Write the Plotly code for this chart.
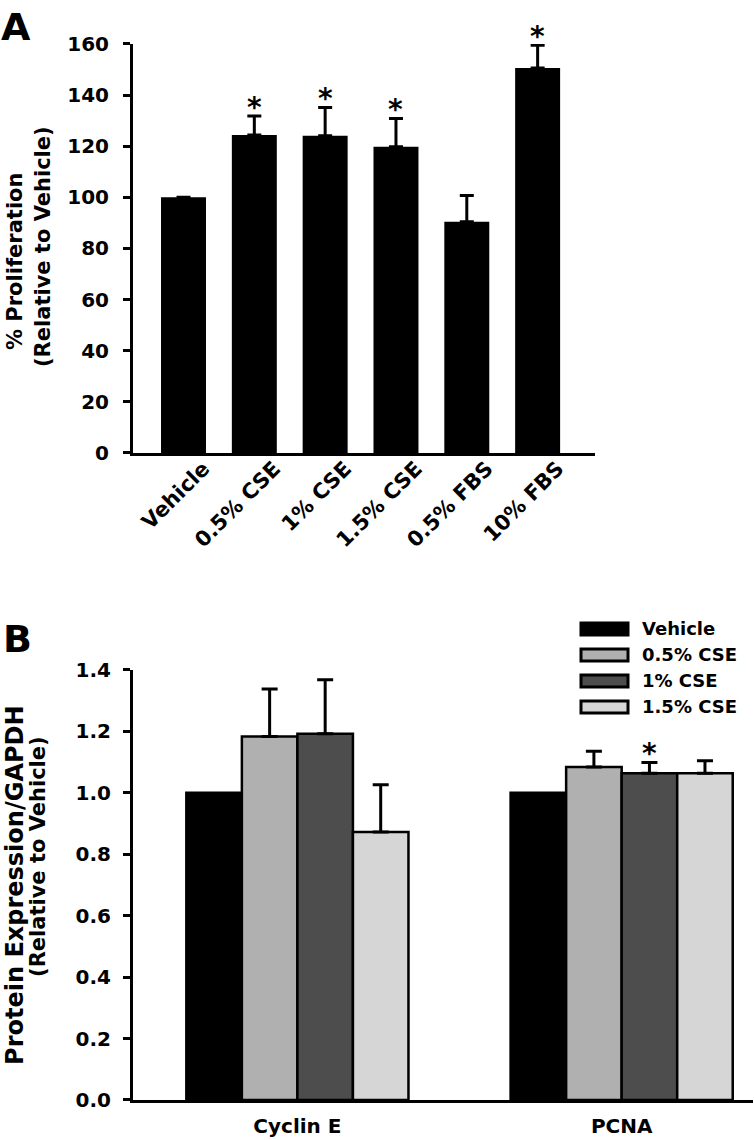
import plotly.graph_objects as go

# ---------------- Panel A data ----------------
a_categories = ["Vehicle", "0.5% CSE", "1% CSE", "1.5% CSE", "0.5% FBS", "10% FBS"]
a_values = [100, 124.4, 124.1, 119.8, 90.5, 150.6]
a_errors = [None, 7.4, 11.1, 11.1, 10.2, 8.9]
a_significant = [False, True, True, True, False, True]
a_yticks = [0, 20, 40, 60, 80, 100, 120, 140, 160]

# ---------------- Panel B data ----------------
b_categories = ["Cyclin E", "PCNA"]
b_series = ["Vehicle", "0.5% CSE", "1% CSE", "1.5% CSE"]
b_vehicle = [1.0, 1.0]
b_cse05 = [1.183, 1.084]
b_cse1 = [1.192, 1.064]
b_cse15 = [0.872, 1.064]
b_vehicle_err = [None, None]
b_cse05_err = [0.155, 0.051]
b_cse1_err = [0.176, 0.035]
b_cse15_err = [0.154, 0.040]
b_significant = [("PCNA", "1% CSE")]
b_colors = ["#000000", "#b0b0b0", "#4d4d4d", "#d6d6d6"]
b_yticks = [0.0, 0.2, 0.4, 0.6, 0.8, 1.0, 1.2, 1.4]

b_values = [b_vehicle, b_cse05, b_cse1, b_cse15]
b_errors = [b_vehicle_err, b_cse05_err, b_cse1_err, b_cse15_err]

W, H = 754, 1140
FONT = "DejaVu Sans"
BARGAP_B = 0.315


def px_x(v):
    return v / W


def page_y(v):
    # vertical placement in page pixels (compensates the capture's vertical inset)
    return (v - 12) / 0.979


def px_y(v):
    return 1 - page_y(v) / H


def bold(size):
    return dict(size=size, family=FONT, weight="bold", color="black")


fig = go.Figure()

fig.add_trace(go.Bar(
    x=a_categories, y=a_values, width=0.635,
    marker=dict(color="black", line=dict(width=0)),
    error_y=dict(type="data", symmetric=False, array=a_errors,
                 arrayminus=[0] * len(a_errors), color="black",
                 thickness=3, width=7),
    xaxis="x", yaxis="y", showlegend=False,
))

for name, vals, errs, col in zip(b_series, b_values, b_errors, b_colors):
    has_err = any(e is not None for e in errs)
    fig.add_trace(go.Bar(
        x=b_categories, y=vals, name=name,
        marker=dict(color=col, line=dict(color="black", width=2.5)),
        error_y=dict(type="data", symmetric=False, array=errs, visible=has_err,
                     arrayminus=[0] * len(errs), color="black",
                     thickness=3, width=8),
        xaxis="x2", yaxis="y2", showlegend=False,
    ))

annotations = []
for cat, v, e, sig in zip(a_categories, a_values, a_errors, a_significant):
    if sig:
        annotations.append(dict(x=cat, y=v + (e or 0), xref="x", yref="y",
                                text="*", showarrow=False, xanchor="center",
                                yanchor="bottom", yshift=-10, font=bold(28)))

n = len(b_series)
bw = (1 - BARGAP_B) / n
for cat, ser in b_significant:
    ci = b_categories.index(cat)
    si = b_series.index(ser)
    xpos = ci - (1 - BARGAP_B) / 2 + (si + 0.5) * bw
    top = b_values[si][ci] + (b_errors[si][ci] or 0)
    annotations.append(dict(x=xpos, y=top, xref="x2", yref="y2",
                            text="*", showarrow=False, xanchor="center",
                            yanchor="bottom", yshift=-10, font=bold(28)))

# panel letters
annotations.append(dict(x=px_x(-1), y=1 + 9 / H, xref="paper", yref="paper", text="A",
                        showarrow=False, xanchor="left", yanchor="top", font=bold(38)))
annotations.append(dict(x=px_x(1), y=px_y(615), xref="paper", yref="paper", text="B",
                        showarrow=False, xanchor="left", yanchor="top", font=bold(38)))

# y-axis titles
annotations.append(dict(x=px_x(15), y=px_y(262), xref="paper", yref="paper",
                        text="% Proliferation", showarrow=False, textangle=-90,
                        xanchor="center", yanchor="middle", font=bold(21)))
annotations.append(dict(x=px_x(43), y=px_y(247), xref="paper", yref="paper",
                        text="(Relative to Vehicle)", showarrow=False, textangle=-90,
                        xanchor="center", yanchor="middle", font=bold(21)))
annotations.append(dict(x=px_x(15), y=px_y(885), xref="paper", yref="paper",
                        text="Protein Expression/GAPDH", showarrow=False, textangle=-90,
                        xanchor="center", yanchor="middle", font=bold(24)))
annotations.append(dict(x=px_x(38), y=px_y(857), xref="paper", yref="paper",
                        text="(Relative to Vehicle)", showarrow=False, textangle=-90,
                        xanchor="center", yanchor="middle", font=bold(21)))

# legend for panel B (large swatches)
shapes = []
row_y = [629, 655, 681, 707]
for name, col, ry in zip(b_series, b_colors, row_y):
    shapes.append(dict(type="rect", xref="paper", yref="paper",
                       x0=px_x(581), x1=px_x(628), y0=px_y(ry + 6), y1=px_y(ry - 6),
                       fillcolor=col, line=dict(color="black", width=3)))
    annotations.append(dict(x=px_x(640), y=px_y(ry), xref="paper", yref="paper",
                            text=name, showarrow=False, xanchor="left", yanchor="middle",
                            font=bold(18)))

fig.update_layout(
    width=W, height=H, autosize=False,
    margin=dict(l=0, r=0, t=0, b=0),
    paper_bgcolor="white", plot_bgcolor="white",
    font=dict(family=FONT, weight="bold", color="black", size=20),
    barmode="group", bargap=BARGAP_B, bargroupgap=0,
    showlegend=False,
    annotations=annotations, shapes=shapes,
    xaxis=dict(domain=[px_x(133), px_x(595)], anchor="y", type="category",
               range=[-0.713, 5.81], showline=True, linewidth=3, linecolor="black",
               ticks="", tickangle=-45, tickfont=bold(21), ticklabelshift=20,
               ticklabelstandoff=-8, showgrid=False, zeroline=False),
    yaxis=dict(domain=[px_y(453), px_y(44)], anchor="x",
               range=[0, 160], tickvals=a_yticks, showline=True, linewidth=3,
               linecolor="black", ticks="outside", ticklen=7, tickwidth=2.5,
               tickcolor="black", tickfont=bold(20), ticklabelstandoff=10,
               showgrid=False, zeroline=False),
    xaxis2=dict(domain=[px_x(133), px_x(753)], anchor="y2", type="category",
                range=[-0.507, 1.405], showline=True, linewidth=3, linecolor="black",
                ticks="", tickfont=bold(20), ticklabelstandoff=6,
                showgrid=False, zeroline=False),
    yaxis2=dict(domain=[px_y(1100), px_y(670)], anchor="x2",
                range=[0, 1.4], tickvals=b_yticks, tickformat=".1f", showline=True,
                linewidth=3, linecolor="black", ticks="outside", ticklen=7, tickwidth=2.5,
                tickcolor="black", tickfont=bold(20), ticklabelstandoff=8,
                showgrid=False, zeroline=False),
)

post = (
    "document.documentElement.style.margin='0';"
    "document.body.style.margin='0';document.body.style.padding='0';"
)

fig.write_html("out.html", config={"displayModeBar": False}, post_script=post)
